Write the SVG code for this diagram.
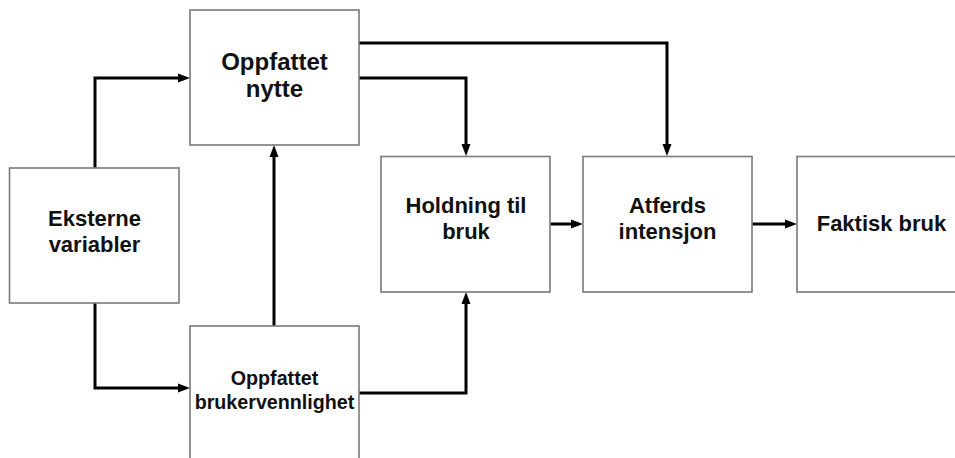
<svg xmlns="http://www.w3.org/2000/svg" width="955" height="458" viewBox="0 0 955 458">
<style>
.box{fill:#ffffff;stroke:#7a7a7a;stroke-width:1.6}
.lbl{font-family:"Liberation Sans",Arial,sans-serif;font-weight:bold;fill:#111;text-anchor:middle}
.con{fill:none;stroke:#000;stroke-width:3;stroke-linejoin:miter}
</style>
<defs>
<marker id="ah" markerWidth="12" markerHeight="10" refX="2" refY="5" orient="auto" markerUnits="userSpaceOnUse">
<path d="M0,0.5 L12,5 L0,9.5 z" fill="#000"/>
</marker>
</defs>
<rect width="955" height="458" fill="#ffffff"/>
<g id="connectors">
<path class="con" d="M95,168 V78 H180" marker-end="url(#ah)"/>
<path class="con" d="M95,303 V388 H180" marker-end="url(#ah)"/>
<path class="con" d="M274,326 V155" marker-end="url(#ah)"/>
<path class="con" d="M359,78 H466 V146" marker-end="url(#ah)"/>
<path class="con" d="M359,43 H667 V146" marker-end="url(#ah)"/>
<path class="con" d="M359,393 H466 V302" marker-end="url(#ah)"/>
<path class="con" d="M550,224 H573" marker-end="url(#ah)"/>
<path class="con" d="M752,224 H787" marker-end="url(#ah)"/>
</g>
<g id="nytte">
<rect class="box" x="190" y="10" width="169" height="135"/>
<text class="lbl" x="274.5" y="69.5" font-size="24">Oppfattet</text>
<text class="lbl" x="274.5" y="97" font-size="24">nytte</text>
</g>
<g id="eksterne">
<rect class="box" x="9.5" y="168" width="169.5" height="135"/>
<text class="lbl" x="94.5" y="226" font-size="22">Eksterne</text>
<text class="lbl" x="94.5" y="252" font-size="22">variabler</text>
</g>
<g id="brukervennlighet">
<rect class="box" x="190" y="326" width="169" height="145"/>
<text class="lbl" x="274.5" y="384.5" font-size="19.7">Oppfattet</text>
<text class="lbl" x="274.5" y="408.5" font-size="19.7">brukervennlighet</text>
</g>
<g id="holdning">
<rect class="box" x="381" y="156.5" width="169" height="135.5"/>
<text class="lbl" x="466" y="212.5" font-size="22">Holdning til</text>
<text class="lbl" x="466" y="238.5" font-size="22">bruk</text>
</g>
<g id="atferds">
<rect class="box" x="583" y="156.5" width="169" height="135.5"/>
<text class="lbl" x="667.5" y="212.5" font-size="22">Atferds</text>
<text class="lbl" x="667.5" y="238.5" font-size="22">intensjon</text>
</g>
<g id="faktisk">
<rect class="box" x="797" y="156.5" width="169" height="135.5"/>
<text class="lbl" x="881.5" y="231" font-size="22">Faktisk bruk</text>
</g>
</svg>
